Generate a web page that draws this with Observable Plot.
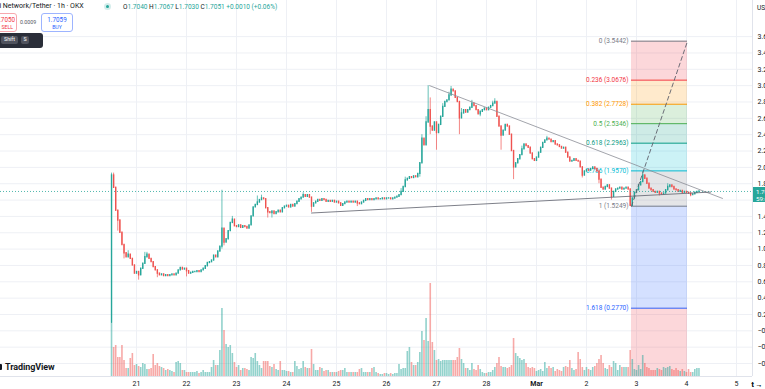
<!DOCTYPE html>
<html><head><meta charset="utf-8">
<script src="https://cdn.jsdelivr.net/npm/d3@7"></script>
<script src="https://cdn.jsdelivr.net/npm/@observablehq/plot@0.6"></script>
<style>
html,body{margin:0;padding:0;background:#fff;overflow:hidden;}
#wrap{position:relative;width:765px;height:389px;overflow:hidden;font-family:Roboto,"Noto Sans",sans-serif;color:#131722;}
.ov{position:absolute;white-space:nowrap;line-height:1;}
</style></head><body>
<div id="wrap"></div>
<script>
// ---- data (hourly candles, PI/USDT OKX) ----
const startUTC = Date.UTC(2025, 1, 20, 12); // first hourly candle
const HOUR = 3600e3;
const firstOpen = 0.10;
const closes = [
1.90,1.75,1.47,1.35,1.20,1.05,0.95,0.90,0.93,0.88,0.80,0.70,
0.72,0.68,0.76,0.82,0.90,0.93,0.88,0.84,0.78,0.74,0.70,0.68,
0.69,0.67,0.68,0.67,0.68,0.69,0.68,0.70,0.74,0.77,0.75,0.76,
0.73,0.70,0.71,0.72,0.72,0.73,0.72,0.74,0.76,0.79,0.83,0.84,
0.86,0.92,0.90,0.97,1.03,1.25,1.08,1.12,1.22,1.32,1.36,1.28,
1.27,1.29,1.26,1.28,1.27,1.25,1.29,1.40,1.51,1.54,1.57,1.60,
1.62,1.61,1.50,1.45,1.44,1.46,1.43,1.45,1.47,1.45,1.50,1.52,
1.53,1.51,1.54,1.52,1.55,1.58,1.61,1.63,1.66,1.64,1.66,1.63,
1.52,1.56,1.58,1.60,1.59,1.61,1.60,1.58,1.59,1.58,1.59,1.57,
1.58,1.56,1.53,1.55,1.57,1.58,1.57,1.58,1.57,1.58,1.56,1.55,
1.57,1.59,1.61,1.60,1.61,1.60,1.61,1.62,1.61,1.61,1.62,1.61,
1.62,1.62,1.61,1.62,1.63,1.64,1.66,1.70,1.76,1.84,1.86,1.88,
1.87,1.89,1.88,1.92,2.05,2.35,2.27,2.55,2.70,2.50,2.45,2.55,
2.42,2.52,2.62,2.74,2.80,2.82,2.88,2.95,2.93,2.85,2.80,2.60,
2.66,2.70,2.67,2.70,2.73,2.78,2.75,2.70,2.65,2.68,2.70,2.72,
2.70,2.73,2.75,2.78,2.80,2.62,2.50,2.39,2.45,2.52,2.50,2.40,
2.20,2.00,2.05,2.10,2.15,2.22,2.28,2.26,2.24,2.17,2.10,2.08,
2.12,2.18,2.24,2.30,2.33,2.35,2.34,2.31,2.32,2.28,2.27,2.25,
2.23,2.24,2.18,2.12,2.07,2.08,2.10,2.08,2.07,2.00,1.90,1.95,
1.97,1.96,1.98,2.00,1.98,1.95,1.85,1.75,1.73,1.76,1.78,1.74,
1.64,1.70,1.73,1.74,1.75,1.73,1.74,1.75,1.73,1.53,1.62,1.69,
1.72,1.78,1.82,1.90,1.86,1.80,1.74,1.72,1.70,1.69,1.70,1.68,
1.67,1.68,1.72,1.76,1.78,1.76,1.73,1.72,1.70,1.71,1.69,1.70,
1.69,1.68,1.66,1.67,1.69,1.70,1.7051
];
// [candle index, high] / [candle index, low] for candles with visible wicks
const highWicks = [[0,1.93],[1,1.93],[8,0.98],[16,0.96],[17,0.96],[53,1.72],[58,1.40],[70,1.65],[72,1.66],[92,1.69],[139,1.74],[141,1.88],[149,2.40],[151,2.62],[152,3.00],[153,2.85],[159,2.78],[162,2.92],[163,2.99],[168,2.72],[173,2.82],[183,2.81],[184,2.84],[197,2.26],[209,2.38],[255,1.95],[267,1.80]];
const lowWicks = [[0,0.09],[3,1.22],[6,0.88],[13,0.62],[22,0.65],[36,0.66],[53,1.00],[54,1.04],[75,1.38],[77,1.38],[96,1.45],[118,1.52],[148,1.88],[153,2.40],[156,2.21],[167,2.40],[177,2.62],[187,2.21],[193,1.85],[226,1.87],[234,1.80],[240,1.60],[249,1.5249],[263,1.65],[278,1.64]];
// relative volume per candle
const volumes = [
53,29,31,19,19,31,16,8,8,18,23,11,12,10,9,13,12,7,7,8,22,11,13,10,9,8,6,7,6,5,
4,14,15,13,6,6,4,4,4,4,4,5,3,4,6,4,4,4,9,16,11,11,26,68,46,32,29,31,23,14,
9,11,6,8,8,7,6,19,18,23,15,11,8,15,15,15,10,9,12,7,6,15,6,6,5,5,4,4,
15,10,7,8,15,9,8,8,27,12,6,6,9,8,5,6,6,4,4,4,4,5,6,6,8,4,4,4,4,
4,4,7,8,4,4,4,4,8,9,4,3,2,2,3,3,2,3,2,3,3,12,7,8,
8,25,29,14,11,11,14,24,45,36,58,35,93,34,26,16,17,15,16,16,
16,16,16,16,16,19,28,17,13,8,8,6,13,7,6,11,7,4,3,
3,4,4,6,9,13,19,10,9,9,8,9,11,38,23,20,18,16,17,
13,9,8,9,8,5,6,7,5,14,8,10,8,9,5,7,6,5,
9,10,9,16,8,6,7,24,17,9,6,9,7,6,9,10,13,17,21,13,
8,7,11,9,15,13,6,11,9,9,9,9,26,17,7,6,11,7,21,
13,9,8,6,6,6,8,7,6,9,8,9,10,7,6,8,6,5,7,5,4,7,4,4,7,8,8
];
const dayTicks = ["2025-02-21","2025-02-22","2025-02-23","2025-02-24","2025-02-25","2025-02-26","2025-02-27","2025-02-28","2025-03-01","2025-03-02","2025-03-03","2025-03-04","2025-03-05"];
const dayLabels = ["21","22","23","24","25","26","27","28","Mar","2","3","4","5"];
const priceTicks = [3.6,3.4,3.2,3.0,2.8,2.6,2.4,2.2,2.0,1.8,1.6,1.4,1.2,1.0,0.8,0.6,0.4,0.2,0,-0.2,-0.4];
// "" = label hidden behind the last-price tag
const priceTickLabels = ["3.6","3.4","3.2","3.0","2.8","2.6","2.4","2.2","2.0","1.8","","1.4","1.2","1.0","0.8","0.6","0.4","0.2","−0.0","−0.2","−0.4"];
const fibLevels = ["0","0.236","0.382","0.5","0.618","0.786","1","1.618","2.618"];
const fibPrices = [3.5442,3.0676,2.7728,2.5346,2.2963,1.9570,1.5249,0.2770,-1.7423];
const fibColors = ["#787b86","#f23645","#ff9800","#4caf50","#089981","#00bcd4","#787b86","#2962ff","#f23645"];
const fibAnchorHours = [249.6, 276.5];
const upperTrend = [[152.7, 3.00],[293.3, 1.62]];
const lowerTrend = [[96, 1.4415],[287.6, 1.698]];
const lastPrice = 1.7051;
const xDomainHours = [-53.3, 307.7];
const yDomain = [-0.559, 4.042];

// ---- build ----
const T = h => new Date(startUTC + h * HOUR);
const hiMap = new Map(highWicks), loMap = new Map(lowWicks);
const volPerPx = (yDomain[1] - yDomain[0]) / 376;
const candles = closes.map((c, i) => {
  const open = i === 0 ? firstOpen : closes[i - 1];
  return {
    t: T(i), open, close: c,
    high: hiMap.has(i) ? hiMap.get(i) : Math.max(open, c),
    low: loMap.has(i) ? loMap.get(i) : Math.min(open, c),
    vol: volumes[i], up: c >= open
  };
});
const UP = "#26a69a", DOWN = "#ef5350";
const dayDates = dayTicks.map(d => new Date(d + "T00:00:00Z"));
const dayLabelMap = new Map(dayDates.map((d, i) => [+d, dayLabels[i]]));
const labelledTicks = priceTicks.filter((p, i) => priceTickLabels[i] !== "");
const priceLabelMap = new Map(priceTicks.map((p, i) => [p, priceTickLabels[i]]));
const fibX1 = T(fibAnchorHours[0]), fibX2 = T(fibAnchorHours[1]);
const fibBands = fibPrices.slice(0, -1).map((p, k) => ({y1: p, y2: fibPrices[k + 1], color: fibColors[k + 1]}));
const fibLines = fibPrices.map((p, k) => ({p, color: fibColors[k], label: `${fibLevels[k]} (${p.toFixed(4)})`}));
const marDate = dayDates[dayLabels.indexOf("Mar")];

const chart = Plot.plot({
  width: 765, height: 389,
  marginLeft: 0, marginRight: 13, marginTop: 0, marginBottom: 13,
  x: {type: "utc", domain: xDomainHours.map(T)},
  y: {domain: yDomain},
  style: {fontFamily: "Roboto, sans-serif", fontSize: "7px", color: "#131722", background: "#fff", overflow: "hidden"},
  marks: [
    Plot.gridX(dayDates, {stroke: "#eef0f5", strokeOpacity: 1}),
    Plot.gridY(priceTicks, {stroke: "#eef0f5", strokeOpacity: 1}),
    Plot.rect(fibBands, {x1: () => fibX1, x2: () => fibX2, y1: "y1", y2: "y2", fill: d => d.color, fillOpacity: 0.2, clip: true}),
    Plot.ruleY(fibLines.slice(0, 8), {y: "p", x1: () => fibX1, x2: () => fibX2, stroke: d => d.color, strokeWidth: 1}),
    Plot.text(fibLines.slice(0, 8), {x: () => fibX1, y: "p", text: "label", fill: d => d.color, textAnchor: "end", dx: -3, fontSize: 6.5}),
    Plot.ruleX(candles, {x: "t", y1: d => yDomain[0], y2: d => yDomain[0] + d.vol * volPerPx, stroke: d => d.up ? UP : DOWN, strokeOpacity: 0.5, strokeWidth: 1.6}),
    Plot.ruleX(candles, {x: "t", y1: "low", y2: "high", stroke: d => d.up ? UP : DOWN, strokeWidth: 0.7}),
    Plot.ruleX(candles, {x: "t", y1: "open", y2: "close", stroke: d => d.up ? UP : DOWN, strokeWidth: 1.4, strokeLinecap: "square"}),
    Plot.ruleY([lastPrice], {stroke: UP, strokeDasharray: "1,2", strokeWidth: 0.8}),
    Plot.line(upperTrend, {x: d => T(d[0]), y: d => d[1], stroke: "#8a8d96", strokeWidth: 0.8}),
    Plot.line(lowerTrend, {x: d => T(d[0]), y: d => d[1], stroke: "#5d606b", strokeWidth: 0.8}),
    Plot.line([[fibAnchorHours[0], fibPrices[6]], [fibAnchorHours[1], fibPrices[0]]], {x: d => T(d[0]), y: d => d[1], stroke: "#5d606b", strokeWidth: 0.9, strokeDasharray: "4,3"}),
    Plot.ruleX([T(xDomainHours[1])], {stroke: "#e0e3eb"}),
    Plot.ruleY([yDomain[0]], {stroke: "#e0e3eb"}),
    Plot.axisY(labelledTicks, {anchor: "right", tickSize: 0, tickPadding: 5, tickFormat: d => priceLabelMap.get(d), fontSize: 7}),
    Plot.axisX(dayDates.filter(d => +d !== +marDate), {tickSize: 0, tickPadding: 5, tickFormat: d => dayLabelMap.get(+d), fontSize: 7}),
    Plot.axisX([marDate], {tickSize: 0, tickPadding: 5, tickFormat: d => dayLabelMap.get(+d), fontSize: 7, fontWeight: "bold"})
  ]
});
const wrap = document.getElementById("wrap");
wrap.appendChild(chart);

// ---- overlays (TradingView header, buttons, logo, price tag) ----
const ov = (html, css) => { const d = document.createElement("div"); d.className = "ov"; d.style.cssText = css; d.innerHTML = html; wrap.appendChild(d); return d; };
ov("Pi Network/Tether · 1h · OKX", "left:-5px;top:3px;font-size:7px;");
ov("", "left:104px;top:3px;width:7px;height:7px;border-radius:50%;background:rgba(38,166,154,0.2);");
ov("", "left:105.8px;top:4.8px;width:3.4px;height:3.4px;border-radius:50%;background:#26a69a;");
const ohlc = [["O","1.7040"],["H","1.7067"],["L","1.7030"],["C","1.7051"]].map(([k,v]) => `<span style="color:#131722">${k}</span><span style="color:#26a69a">${v}</span>`).join(" ");
ov(ohlc + ` <span style="color:#26a69a">+0.0010 (+0.06%)</span>`, "left:123px;top:3.5px;font-size:6.5px;");
ov(`<div style="position:absolute;right:1px;top:3px;font-size:6.3px;color:#f23645">1.7050</div><div style="position:absolute;right:3px;top:11px;font-size:5.2px;color:#f23645">SELL</div>`, "left:-20px;top:13px;width:35px;height:17px;border:1px solid #f7a8ae;border-radius:3px;background:#fff;");
ov("0.0009", "left:20px;top:20px;font-size:5.3px;color:#50535e;");
ov(`<div style="text-align:center;margin-top:3px;font-size:6.3px;color:#2962ff">1.7059</div><div style="text-align:center;margin-top:2px;font-size:5.2px;color:#2962ff">BUY</div>`, "left:41px;top:13px;width:30px;height:17px;border:1px solid #9db4ff;border-radius:3px;background:#fff;");
ov(`<span style="display:inline-block;background:#50535e;border-radius:2px;padding:1.5px 3px;margin:0 3px 0 4px">Shift</span><span style="display:inline-block;background:#50535e;border-radius:2px;padding:1.5px 2.5px">S</span>`, "left:-3px;top:33px;width:46px;height:15px;border-radius:3px;background:#2a2e39;color:#fff;font-size:5.3px;padding-top:2.5px;box-sizing:border-box;");
ov("", "left:-2px;top:364px;width:4px;height:6px;background:#131722;border-radius:1px;");
ov("TradingView", "left:5px;top:362.5px;font-size:9px;font-weight:700;color:#131722;letter-spacing:-0.1px;");
ov("USDT", "left:757px;top:4.5px;font-size:6.5px;color:#131722;");
ov(`<div style="margin:2px 0 0 3px">1.7051</div><div style="margin:1.5px 0 0 3px">59:41</div>`, "left:753px;top:186.5px;width:20px;height:15px;background:#26a69a;color:#fff;font-size:6.2px;");
</script>
</body></html>
